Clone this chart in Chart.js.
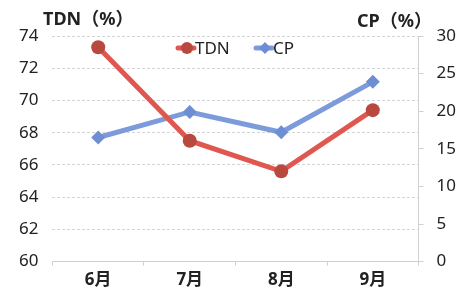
<!DOCTYPE html>
<html>
<head>
<meta charset="utf-8">
<script src="https://cdn.jsdelivr.net/npm/chart.js@4/dist/chart.umd.min.js"></script>
<style>
  html, body { margin: 0; padding: 0; background: #fff; }
  #wrap { width: 469px; height: 300px; }
</style>
</head>
<body>
<div id="wrap"><canvas id="chart"></canvas></div>
<script>
const months = ["6月", "7月", "8月", "9月"];
const tdn_values = [73.3, 67.5, 65.6, 69.4];
const cp_values = [16.5, 19.9, 17.2, 23.9];
const tdn_ticks = [60, 62, 64, 66, 68, 70, 72, 74];
const cp_ticks = [0, 5, 10, 15, 20, 25, 30];

const TDN_LINE = "#e0574f";
const TDN_DOT = "#b9483f";
const CP_LINE = "#7d9bdb";
const CP_DOT = "#6d8ed2";
const FONT = "'Noto Sans', 'Noto Sans CJK JP', sans-serif";

//
// axis titles + legend drawn on top
//
const extras = {
    id: "extras",
    afterDraw(chart) {
        const c = chart.ctx;
        c.save();
        c.fillStyle = "#222";
        c.font = "bold 18px " + FONT;
        c.textBaseline = "middle";
        c.textAlign = "left";
        c.fillText("TDN（%）", 43, 20);
        c.fillText("CP（%）", 357, 22);

        // legend
        const items = [
            { x: 178, label: "TDN", line: TDN_LINE, dot: TDN_DOT, style: "circle" },
            { x: 256, label: "CP", line: CP_LINE, dot: CP_DOT, style: "rectRot" }
        ];
        const y = 48;
        c.font = "17px " + FONT;
        items.forEach(it => {
            c.strokeStyle = it.line;
            c.lineWidth = 5;
            c.lineCap = "round";
            c.beginPath();
            c.moveTo(it.x, y);
            c.lineTo(it.x + 16, y);
            c.stroke();
            c.fillStyle = it.dot;
            c.beginPath();
            if (it.style === "circle") {
                c.arc(it.x + 9, y, 6, 0, Math.PI * 2);
            } else {
                c.moveTo(it.x + 9, y - 6);
                c.lineTo(it.x + 15, y);
                c.lineTo(it.x + 9, y + 6);
                c.lineTo(it.x + 3, y);
                c.closePath();
            }
            c.fill();
            c.fillStyle = "#222";
            c.fillText(it.label, it.x + 17, y + 1);
        });
        c.restore();
    }
};

new Chart(document.getElementById("chart"), {
    type: "line",
    data: {
        labels: months,
        datasets: [
            {
                label: "TDN",
                data: tdn_values,
                yAxisID: "y",
                borderColor: TDN_LINE,
                backgroundColor: TDN_DOT,
                borderWidth: 5,
                pointStyle: "circle",
                pointRadius: 7,
                pointBorderWidth: 0,
                pointBackgroundColor: TDN_DOT
            },
            {
                label: "CP",
                data: cp_values,
                yAxisID: "y2",
                borderColor: CP_LINE,
                backgroundColor: CP_DOT,
                borderWidth: 5,
                pointStyle: "rectRot",
                pointRadius: 7,
                pointBorderWidth: 0,
                pointBackgroundColor: CP_DOT
            }
        ]
    },
    options: {
        responsive: true,
        maintainAspectRatio: false,
        animation: false,
        layout: { padding: { top: 36, left: 5, right: 0, bottom: 6 } },
        plugins: {
            legend: { display: false },
            tooltip: { enabled: false }
        },
        scales: {
            x: {
                offset: true,
                grid: {
                    offset: true,
                    drawOnChartArea: false,
                    color: "#d0d0d0",
                    tickLength: 4
                },
                border: { color: "#d0d0d0", dash: [2, 2] },
                ticks: {
                    color: "#222",
                    padding: 4,
                    font: { family: FONT, size: 17, weight: "bold" }
                }
            },
            y: {
                position: "left",
                min: 60,
                max: 74,
                afterBuildTicks: axis => { axis.ticks = tdn_ticks.map(v => ({ value: v })); },
                grid: { color: "#d4d4d4", tickLength: 0 },
                border: { display: false, dash: [3, 2] },
                ticks: {
                    color: "#222",
                    padding: 14,
                    font: { family: FONT, size: 17 }
                }
            },
            y2: {
                position: "right",
                min: 0,
                max: 30,
                afterBuildTicks: axis => { axis.ticks = cp_ticks.map(v => ({ value: v })); },
                grid: { drawOnChartArea: false, color: "#d0d0d0", tickLength: 5 },
                border: { color: "#d0d0d0", dash: [2, 2] },
                ticks: {
                    color: "#222",
                    padding: 13,
                    font: { family: FONT, size: 17 }
                }
            }
        }
    },
    plugins: [extras]
});
</script>
</body>
</html>
